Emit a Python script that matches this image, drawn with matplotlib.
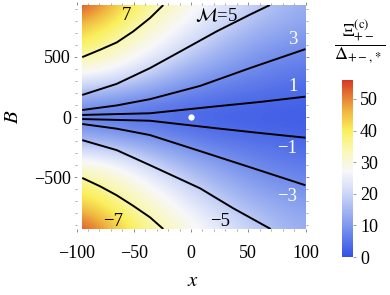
import numpy as np
import matplotlib
matplotlib.use("Agg")
import matplotlib.pyplot as plt
from matplotlib.colors import LinearSegmentedColormap
from matplotlib.patches import Rectangle

plt.rcParams['font.family'] = ['Liberation Serif', 'DejaVu Serif']
plt.rcParams['mathtext.fontset'] = 'stix'

# colour field (rows: B from top to bottom, cols: x)
grid_x = [-95, -56, -17, 22, 61, 100]
grid_B = [930, 744, 558, 372, 186, 0, -186, -372, -558, -744, -930]
field = [
    [57, 41, 32, 25, 18, 13],
    [45, 36, 28, 20, 14, 11],
    [39, 31, 23, 15, 10, 8],
    [29, 24, 15, 10, 7, 5],
    [15, 11, 8, 5, 4, 3],
    [5, 4, 3, 2, 2, 1.5],
    [15, 11, 8, 5, 4, 3],
    [29, 24, 15, 10, 7, 5],
    [39, 31, 23, 15, 10, 8],
    [45, 36, 28, 20, 14, 11],
    [57, 41, 32, 25, 18, 13],
]

# contour lines  M = const: (x, B)
lines = {
    7:  ([-95, -79.5, -64.9, -50.4, -35.8, -24.2], [497, 558, 619, 711, 822, 930]),
    5:  ([-95, -64.9, -35.8, -6.7, 22.4, 51.5, 69.0], [183, 275, 406, 558, 711, 850, 930]),
    3:  ([-95, -64.9, -35.8, 7.9, 51.5, 100], [58, 96, 148, 258, 406, 564]),
    1:  ([-95, -35.8, 22.4, 60.3, 100], [17, 31, 89, 125, 169]),
    -1: ([-95, -35.8, 22.4, 60.3, 100], [-17, -31, -94, -133, -172]),
    -3: ([-95, -64.9, -35.8, 7.9, 51.5, 100], [-58, -97, -150, -283, -417, -567]),
    -5: ([-95, -64.9, -35.8, 7.9, 36.9, 69.6], [-192, -275, -400, -592, -758, -930]),
    -7: ([-95, -79.5, -64.9, -50.4, -35.8, -24.2], [-506, -575, -650, -738, -833, -930]),
}

labels = [
    ('7', -56.8, 842, 'black'),
    (r'$\mathcal{M}$=5', 22.4, 842, 'black'),
    ('3', 89.3, 642, 'white'),
    ('1', 89.3, 250, 'white'),
    ('\u22121', 83.6, -258, 'white'),
    ('\u22123', 83.6, -664, 'white'),
    ('\u22125', 25.3, -867, 'black'),
    ('\u22127', -68.1, -867, 'black'),
]

cmap = LinearSegmentedColormap.from_list('thermo', [
    (0.0, (0.20, 0.32, 0.90)),
    (10/56, (0.50, 0.60, 0.93)),
    (20/56, (0.80, 0.84, 0.97)),
    (27/56, (0.97, 0.97, 0.98)),
    (34/56, (0.98, 0.97, 0.70)),
    (40/56, (0.98, 0.94, 0.36)),
    (46/56, (0.94, 0.72, 0.25)),
    (51/56, (0.90, 0.48, 0.20)),
    (1.0, (0.84, 0.22, 0.15)),
])

fig = plt.figure(figsize=(3.9, 2.95), dpi=100)
ax = fig.add_axes([76.5/390, 66/295, 229/390, 224/295])

dx = grid_x[1] - grid_x[0]
dB = grid_B[0] - grid_B[1]
im = ax.imshow(np.array(field), cmap=cmap, vmin=0, vmax=56, interpolation='bicubic',
               extent=[grid_x[0]-dx/2, grid_x[-1]+dx/2, grid_B[-1]-dB/2, grid_B[0]+dB/2],
               aspect='auto')
im.set_clip_path(Rectangle((grid_x[0], grid_B[-1]), grid_x[-1]-grid_x[0],
                           grid_B[0]-grid_B[-1], transform=ax.transData))

for m, (xs, bs) in lines.items():
    ax.plot(xs, bs, color='black', lw=1.4, solid_capstyle='butt')

for txt, lx, ly, c in labels:
    ax.text(lx, ly, txt, color=c, fontsize=13.5, ha='center', va='center')

ax.plot([0], [0], 'o', color='white', ms=4.5, mec='none')

ax.set_xlim(-100, 100)
ax.set_ylim(-930, 930)
ax.set_xticks([-100, -50, 0, 50, 100])
ax.set_xticks(np.arange(-100, 101, 10), minor=True)
ax.set_yticks([-500, 0, 500])
ax.set_yticks(np.arange(-900, 901, 100), minor=True)
for s in ax.spines.values():
    s.set_visible(False)
ax.tick_params(which='both', direction='out', color='0.55', top=True, right=True)
ax.tick_params(which='major', length=2.5, width=0.7, labelsize=13)
ax.tick_params(which='minor', length=1.5, width=0.5)
ax.tick_params(axis='x', pad=9)
ax.tick_params(axis='y', pad=1.5)

fig.text(13/390, 1 - 117/295, '$B$', fontsize=15, rotation=90, ha='center', va='center')
fig.text(193/390, 1 - 282/295, '$x$', fontsize=15, ha='center', va='center')

cax = fig.add_axes([342/390, 38/295, 11/390, 177/295])
cb = fig.colorbar(im, cax=cax)
cb.outline.set_visible(False)
cb.set_ticks([0, 10, 20, 30, 40, 50])
cax.tick_params(length=2, width=0.6, color='0.55', labelsize=13, pad=3)
fig.text(360/390, 1 - 42/295, r'$\dfrac{\Xi^{(\mathrm{c})}_{+-}}{\Delta_{+-,*}}$',
         fontsize=13, ha='center', va='center')

fig.savefig('out.png', dpi=100)
